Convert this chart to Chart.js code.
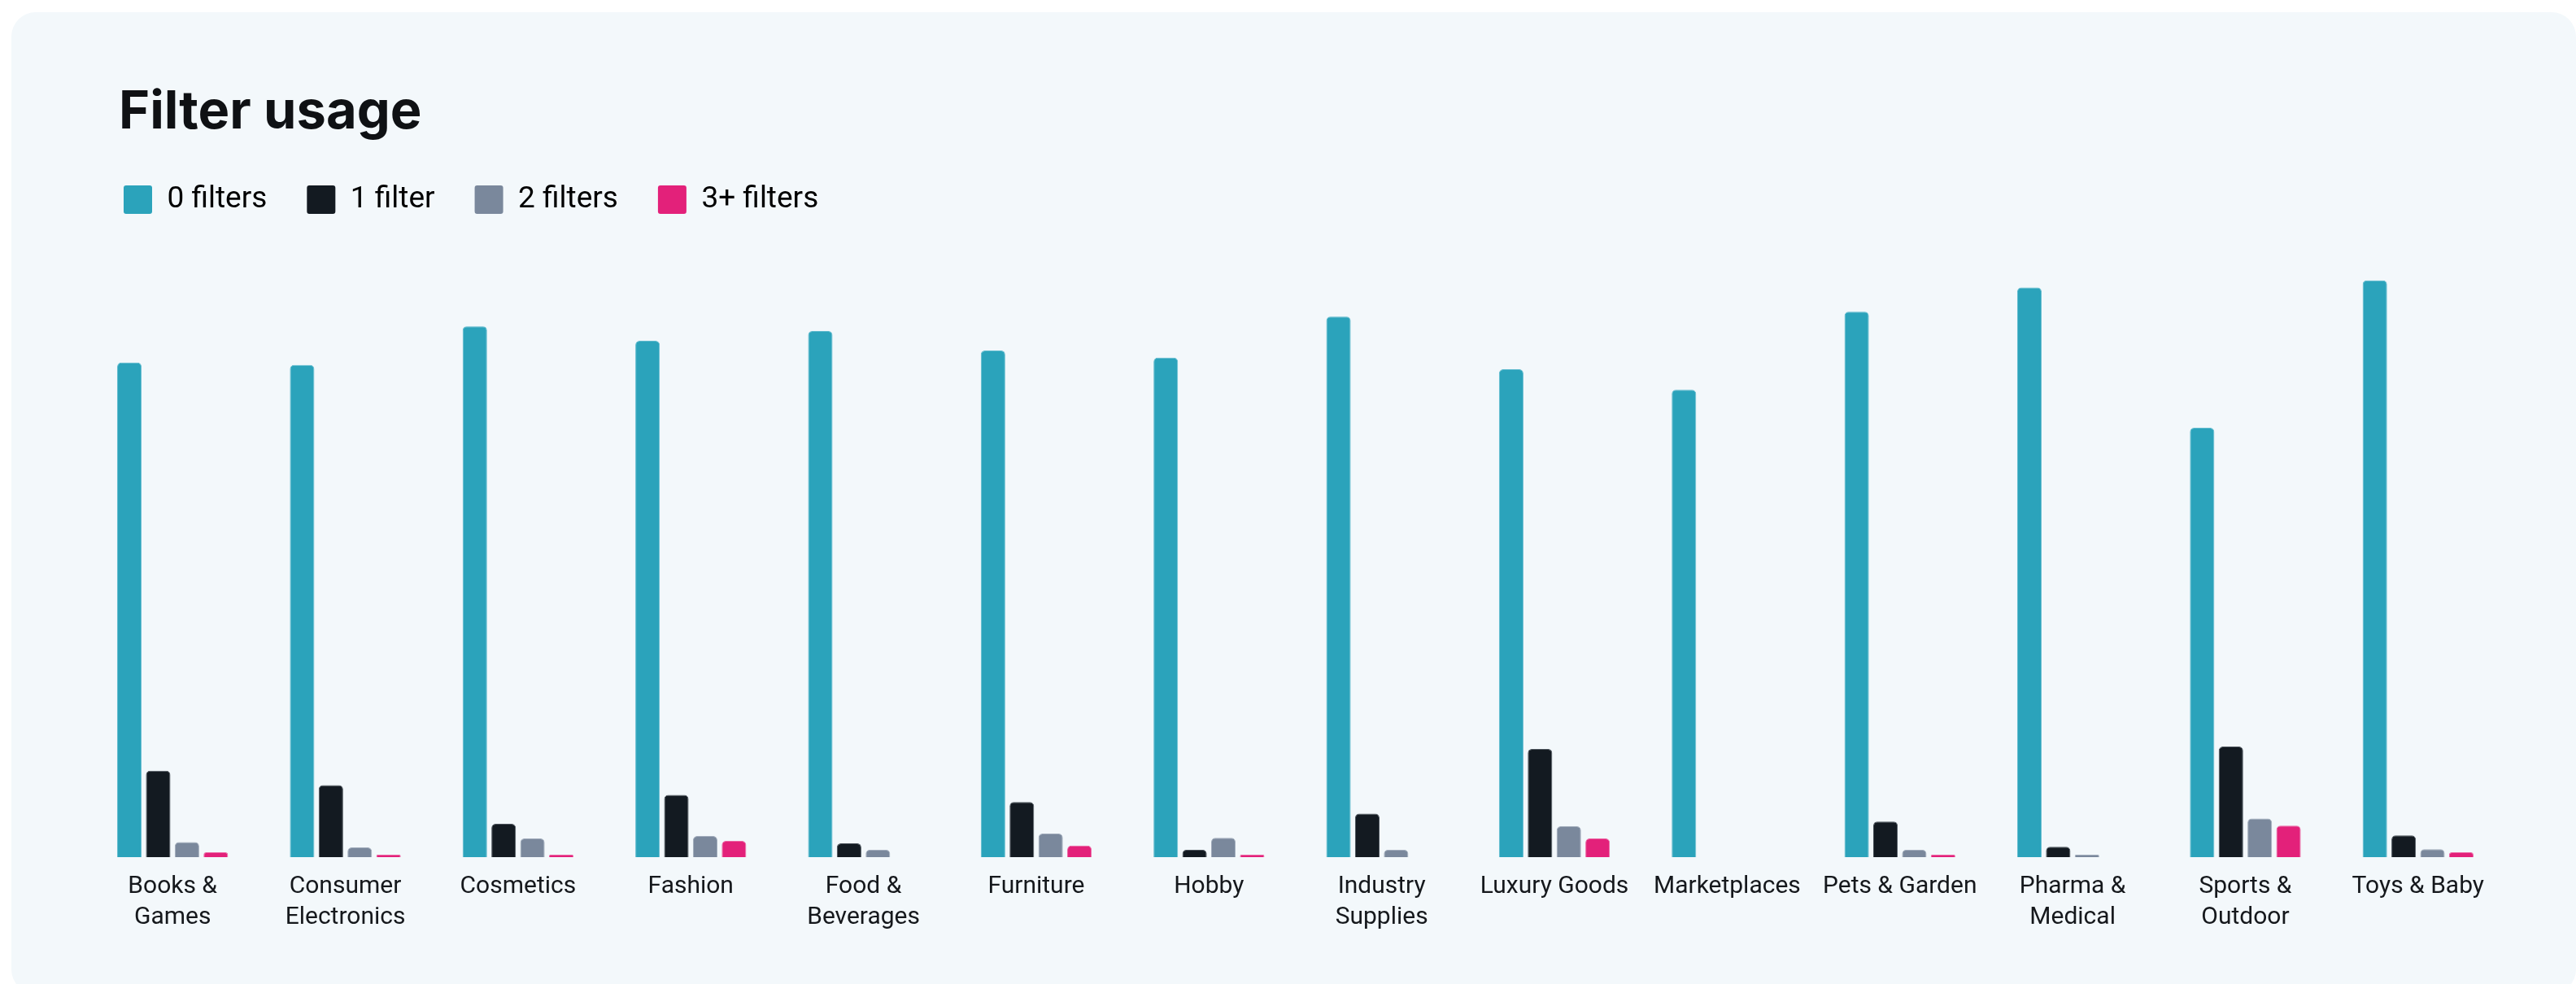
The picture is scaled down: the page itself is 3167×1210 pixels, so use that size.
<!DOCTYPE html>
<html>
<head>
<meta charset="utf-8">
<script src="https://cdn.jsdelivr.net/npm/chart.js@4.4.1/dist/chart.umd.min.js"></script>
<style>
  html, body { margin: 0; padding: 0; background: #ffffff; width: 3167px; height: 1210px; overflow: hidden; }
  #card { position: absolute; left: 14px; top: 15px; width: 3153px; height: 1207px; background: #f3f8fb; border-radius: 30px; }
  #title { position: absolute; left: 146px; top: 102px; margin: 0; font-family: Inter, "Noto Sans", sans-serif; font-weight: 700; font-size: 65px; line-height: 65px; color: #0f1114; letter-spacing: 0px; }
  #wrap { position: absolute; left: 0; top: 0; width: 3167px; height: 1210px; }
</style>
</head>
<body>
<div id="card"></div>
<h1 id="title">Filter usage</h1>
<div id="wrap"><canvas id="c" width="3167" height="1210"></canvas></div>
<script>
const categories = [
  ["Books &", "Games"], ["Consumer", "Electronics"], "Cosmetics", "Fashion", ["Food &", "Beverages"],
  "Furniture", "Hobby", ["Industry", "Supplies"], "Luxury Goods", "Marketplaces", "Pets & Garden",
  ["Pharma &", "Medical"], ["Sports &", "Outdoor"], "Toys & Baby"
];
const seriesNames = ["0 filters", "1 filter", "2 filters", "3+ filters"];
const zeroFilters  = [81.8, 81.4, 87.8, 85.4, 87.0, 83.8, 82.6, 89.4, 80.7, 77.3, 90.2, 94.2, 71.0, 95.4];
const oneFilter    = [14.3, 11.9, 5.5, 10.3, 2.3, 9.1, 1.2, 7.2, 17.9, 0, 5.9, 1.7, 18.3, 3.6];
const twoFilters   = [2.5, 1.6, 3.1, 3.5, 1.2, 3.9, 3.2, 1.2, 5.1, 0, 1.2, 0.4, 6.4, 1.3];
const threePlus    = [0.8, 0.4, 0.4, 2.7, 0, 1.9, 0.4, 0, 3.1, 0, 0.4, 0, 5.2, 0.8];
const yMax = 104.9;

const fills   = ["#2ba3bb", "#131a21", "#7a889c", "#e3217a"];
const borders = ["#63bccf", "#4b535b", "#a2adbc", "#ec68a4"];
const values  = [zeroFilters, oneFilter, twoFilters, threePlus];

const datasets = seriesNames.map((name, i) => ({
  label: name,
  data: values[i],
  backgroundColor: fills[i],
  borderColor: borders[i],
  borderWidth: 1,
  borderRadius: 5,
  borderSkipped: 'start',
  categoryPercentage: 0.667,
  barPercentage: 0.85
}));

new Chart(document.getElementById('c'), {
  type: 'bar',
  data: { labels: categories, datasets },
  options: {
    responsive: false,
    animation: false,
    events: [],
    layout: { padding: { left: 103, right: 88, top: 178, bottom: 45 } },
    plugins: {
      title: { display: false },
      tooltip: { enabled: false },
      legend: {
        display: true,
        position: 'top',
        align: 'start',
        labels: {
          boxWidth: 35,
          boxHeight: 35,
          padding: 49,
          color: '#15181c',
          font: { family: 'Roboto', size: 37 },
          generateLabels: (chart) => chart.data.datasets.map((ds, i) => ({
            text: ds.label,
            fillStyle: fills[i],
            strokeStyle: fills[i],
            lineWidth: 0,
            borderRadius: 3,
            datasetIndex: i,
            hidden: false
          })),
          useBorderRadius: true,
          borderRadius: 3
        }
      }
    },
    scales: {
      x: {
        grid: { display: false, drawTicks: false },
        border: { display: false },
        ticks: {
          color: '#15181c',
          font: { family: 'Roboto', size: 30, lineHeight: 1.25 },
          padding: 18,
          maxRotation: 0,
          autoSkip: false
        }
      },
      y: {
        display: true,
        min: 0,
        max: yMax,
        grid: { display: false, drawTicks: false },
        border: { display: false },
        ticks: { display: false },
        afterFit: (s) => { s.width = 3; }
      }
    }
  }
});
</script>
</body>
</html>
